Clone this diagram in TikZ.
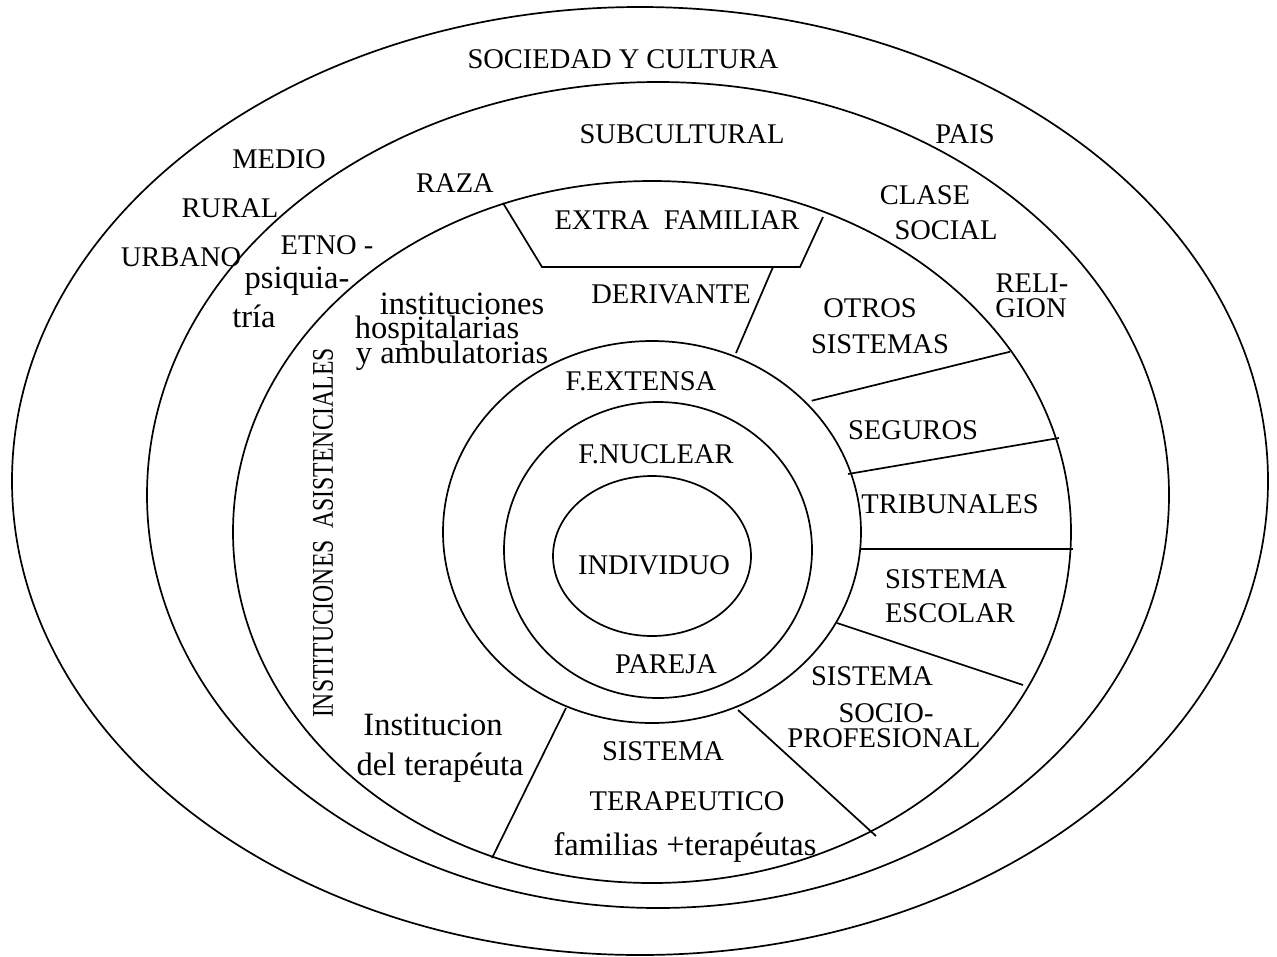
\documentclass[tikz,border=0pt]{standalone}
\usepackage{fontspec}
\setmainfont{Liberation Serif}
\begin{document}
\begin{tikzpicture}[x=1pt,y=-1pt,
  ring/.style={line width=1.7pt},
  divider/.style={line width=1.7pt},
  up/.style={font=\fontsize{28.5}{30}\selectfont, inner sep=0pt, anchor=base},
  low/.style={font=\fontsize{32.5}{34}\selectfont, inner sep=0pt, anchor=base}]
\useasboundingbox (0,0) rectangle (1277,956);
% rings
\draw[ring] (640,481) ellipse [x radius=628, y radius=474];
\draw[ring] (658,495) ellipse [x radius=511, y radius=413];
\draw[ring] (652,532) ellipse [x radius=419, y radius=351];
\draw[ring] (652,532) ellipse [x radius=209, y radius=191];
\draw[ring] (658,550) ellipse [x radius=154, y radius=148];
\draw[ring] (652,556) ellipse [x radius=99, y radius=80];
% divider end points
\coordinate (t1) at (503,203);
\coordinate (t2) at (542,267);
\coordinate (t3) at (800,267);
\coordinate (t4) at (823,217);
\coordinate (d1) at (773,267);
\coordinate (d2) at (736,353);
\coordinate (o1) at (811.7,400.7);
\coordinate (o2) at (1010,351.7);
\coordinate (s1) at (848,474);
\coordinate (s2) at (1059,438);
\coordinate (b1) at (860,549);
\coordinate (b2) at (1073,549);
\coordinate (e1) at (837,623);
\coordinate (e2) at (1023,685);
\coordinate (p1) at (738,710);
\coordinate (p2) at (876,836);
\coordinate (i1) at (566,708);
\coordinate (i2) at (492,858);
\draw[divider] (t1) -- (t2) -- (t3) -- (t4);
\draw[divider] (d1) -- (d2);
\draw[divider] (o1) -- (o2);
\draw[divider] (s1) -- (s2);
\draw[divider] (b1) -- (b2);
\draw[divider] (e1) -- (e2);
\draw[divider] (p1) -- (p2);
\draw[divider] (i1) -- (i2);
% labels
\node[up] (soc) at (623,68) {SOCIEDAD Y CULTURA};
\node[up] (sub) at (682,143) {SUBCULTURAL};
\node[up] (pais) at (965,143) {PAIS};
\node[up] (medio) at (279,168) {MEDIO};
\node[up] (rural) at (230,217) {RURAL};
\node[up] (urbano) at (181,266) {URBANO};
\node[up] (etno) at (327,254) {ETNO -};
\node[low] (psiq) at (297,288) {psiquia-};
\node[low] (tria) at (254,327) {tría};
\node[up] (raza) at (455,192) {RAZA};
\node[low] (inst1) at (462,314) {instituciones};
\node[low] (inst2) at (437,338) {hospitalarias};
\node[low] (inst3) at (452,363) {y ambulatorias};
\node[up] (extra) at (677,229) {EXTRA\ \ FAMILIAR};
\node[up] (deriv) at (671,303) {DERIVANTE};
\node[up] (clase) at (925,204) {CLASE};
\node[up] (social) at (946,239) {SOCIAL};
\node[up] (reli) at (1032,292) {RELI-};
\node[up] (gion) at (1031,317) {GION};
\node[up] (otros) at (870,317) {OTROS};
\node[up] (sistemas) at (880,353) {SISTEMAS};
\node[up] (seguros) at (913,439) {SEGUROS};
\node[up] (tribu) at (950,513) {TRIBUNALES};
\node[up] (sist1) at (946,588) {SISTEMA};
\node[up] (escolar) at (950,622) {ESCOLAR};
\node[up] (sist2) at (872,685) {SISTEMA};
\node[up] (socio) at (886,722) {SOCIO-};
\node[up] (profes) at (884,747) {PROFESIONAL};
\node[up] (fext) at (641,390) {F.EXTENSA};
\node[up] (fnuc) at (656,463) {F.NUCLEAR};
\node[up] (indiv) at (654,574) {INDIVIDUO};
\node[up] (pareja) at (666,673) {PAREJA};
\node[low] (instt1) at (433,735) {Institucion};
\node[low] (instt2) at (440,775) {del terapéuta};
\node[up] (sist3) at (663,760) {SISTEMA};
\node[up] (terap) at (687,810) {TERAPEUTICO};
\node[low] (famil) at (685,855) {familias +terapéutas};
\node[font=\fontsize{30}{32}\selectfont, inner sep=0pt, rotate=90] (asist) at (323,533)
  {\scalebox{0.79}[1]{INSTITUCIONES\ \ ASISTENCIALES}};
\end{tikzpicture}
\end{document}
